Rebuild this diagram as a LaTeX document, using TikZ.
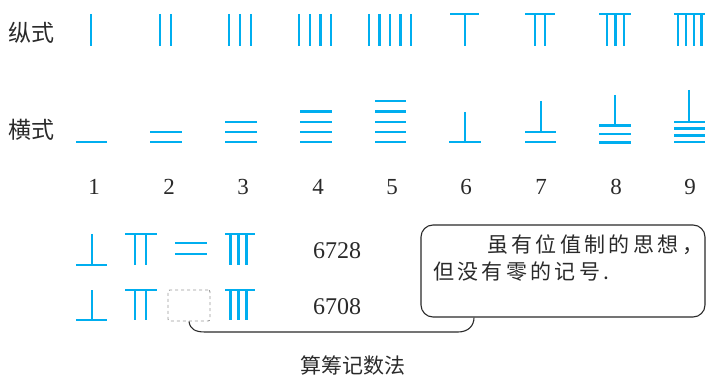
\documentclass[tikz,border=0pt]{standalone}
\usepackage{fontspec}
\setmainfont{Liberation Serif}
\newfontfamily\cjk{Noto Sans CJK SC}
\newfontfamily\cjksp[LetterSpace=16]{Noto Sans CJK SC}
\definecolor{rodblue}{HTML}{00AEEF}
\definecolor{inkgray}{HTML}{2A2A2A}
\tikzset{
  rod/.style={draw=rodblue, line width=2.5pt},
  lbl/.style={font=\cjk\fontsize{23}{26}\selectfont, text=inkgray, inner sep=0pt},
  digit/.style={font=\fontsize{23}{25}\selectfont, text=inkgray, inner sep=0pt},
  num/.style={font=\fontsize{24}{26}\selectfont, text=inkgray, inner sep=0pt},
  zerobox/.style={draw=gray!80, dashed, line width=0.9pt, rounded corners=2pt, minimum width=42pt, minimum height=31pt, inner sep=0pt},
  callout/.style={draw=inkgray, line width=1.1pt, rounded corners=12pt, minimum width=284pt, minimum height=92pt, inner sep=0pt},
  tail/.style={draw=inkgray, line width=1.1pt},
  cltext/.style={font=\cjksp\fontsize{21}{24}\selectfont, text=inkgray, inner sep=0pt, anchor=west},
}
\begin{document}
\begin{tikzpicture}[x=1pt,y=-1pt]
\useasboundingbox (0,0) rectangle (707,382);
% labels
\node[lbl] (zong) at (32,33) {纵式};
\node[lbl] (heng) at (32,130) {横式};
% vertical (zong) forms
\draw[rod] (91,14) -- (91,46);
\foreach \x in {160,171} \draw[rod] (\x,14) -- (\x,46);
\foreach \x in {229,240,251} \draw[rod] (\x,14) -- (\x,46);
\foreach \x in {299,310,320.5,331} \draw[rod] (\x,14) -- (\x,46);
\foreach \x in {369,379.5,390,400.5,411} \draw[rod] (\x,14) -- (\x,46);
\draw[rod] (450,14) -- (479,14); \draw[rod] (465,14) -- (465,46);
\draw[rod] (525,14) -- (555,14); \foreach \x in {535,545} \draw[rod] (\x,14) -- (\x,46);
\draw[rod] (599,14) -- (631,14); \foreach \x in {607,615.5,624} \draw[rod] (\x,14) -- (\x,46);
\draw[rod] (674,14) -- (705,14); \foreach \x in {678,686,694,701.5} \draw[rod] (\x,14) -- (\x,46);
% horizontal (heng) forms
\draw[rod] (76,142) -- (107,142);
\foreach \y in {132,142} \draw[rod] (150,\y) -- (182,\y);
\foreach \y in {122,132,142} \draw[rod] (225,\y) -- (257,\y);
\foreach \y in {111.5,122,132,142} \draw[rod] (300,\y) -- (332,\y);
\foreach \y in {101,111.5,122,132,142} \draw[rod] (375,\y) -- (406,\y);
\draw[rod] (449,142) -- (481,142); \draw[rod] (465,112) -- (465,142);
\foreach \y in {132,142} \draw[rod] (525,\y) -- (556,\y); \draw[rod] (541,101) -- (541,132);
\foreach \y in {125.5,134,142.5} \draw[rod] (599,\y) -- (631,\y); \draw[rod] (615,95) -- (615,125.5);
\foreach \y in {122,128.7,135.3,142} \draw[rod] (674,\y) -- (705,\y); \draw[rod] (689,90) -- (689,122);
% digits
\foreach \d/\x in {1/94,2/169,3/243,4/318,5/392,6/466,7/541,8/616,9/690}
  \node[digit] (d\d) at (\x,187) {\d};
% 6728
\draw[rod] (76,265) -- (107,265); \draw[rod] (92,234) -- (92,265);
\draw[rod] (125,234) -- (157,234); \foreach \x in {135,146} \draw[rod] (\x,234) -- (\x,265);
\foreach \y in {243,254} \draw[rod] (175,\y) -- (207,\y);
\draw[rod] (225,234) -- (255,234); \foreach \x in {230.5,238.5,246.5} \draw[rod] (\x,234) -- (\x,265);
\node[num] (n1) at (337,251) {6728};
% 6708
\draw[rod] (76,320) -- (107,320); \draw[rod] (92,290) -- (92,320);
\draw[rod] (125,290) -- (157,290); \foreach \x in {135,146} \draw[rod] (\x,290) -- (\x,320);
\node[zerobox] (zero) at (189,305.5) {};
\draw[rod] (225,290) -- (255,290); \foreach \x in {230.5,238.5,246.5} \draw[rod] (\x,290) -- (\x,320);
\node[num] (n2) at (337,307) {6708};
% callout
\node[callout] (note) at (563,271) {};
\node[cltext] (t1) at (487,245) {虽有位值制的思想，};
\node[cltext] (t2) at (433,272) {但没有零的记号.};
\draw[tail] (zero.south) .. controls (190,329) and (195,332) .. (205,332)
  -- (458,332) .. controls (468,332) and (474,326) .. (note.south west -| 474,317);
% title
\node[lbl, font=\cjk\fontsize{21}{24}\selectfont] (title) at (353,365) {算筹记数法};
\end{tikzpicture}
\end{document}
